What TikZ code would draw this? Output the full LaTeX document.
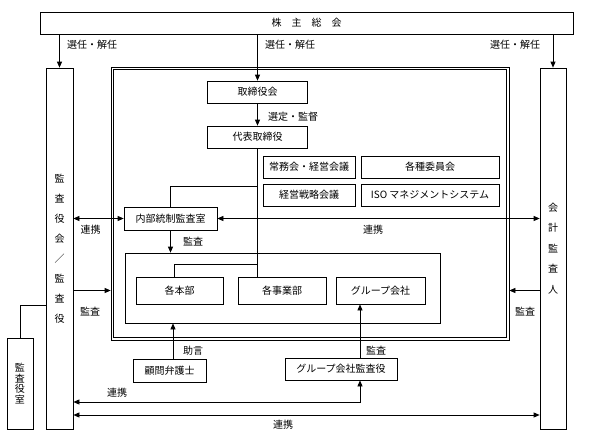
\documentclass[tikz,border=0pt]{standalone}
\usepackage{fontspec}
\setmainfont{Noto Sans CJK JP}
\usetikzlibrary{arrows.meta,calc}
\begin{document}
\begin{tikzpicture}[x=1pt,y=-1pt,
  every node/.style={font=\fontsize{10}{12}\selectfont, inner sep=0pt},
  box/.style={draw, line width=0.7pt, inner sep=0pt},
  ln/.style={line width=0.7pt},
  ar/.style={ln, -{Triangle[length=6pt,width=5pt]}},
  dar/.style={ln, {Triangle[length=6pt,width=5pt]}-{Triangle[length=6pt,width=5pt]}}]
\useasboundingbox (0,0) rectangle (592,442);
% boxes
\node[box, minimum width=533pt, minimum height=22pt] (sh) at (306.5,23) {株　主　総　会};
\node[box, minimum width=27pt, minimum height=361pt, align=center, font=\fontsize{10}{20}\selectfont] (kan) at (59.5,248.5) {監\\査\\役\\会\\／\\監\\査\\役};
\node[box, minimum width=26pt, minimum height=361pt, align=center, font=\fontsize{10}{20.5}\selectfont] (kai) at (553,248.5) {会\\計\\監\\査\\人};
\node[box, minimum width=398pt, minimum height=273pt] (big) at (310,203.5) {};
\draw[line width=1pt] ($(big.north west)+(2.8,2.8)$) rectangle ($(big.south east)+(-2.8,-2.8)$);
\node[box, minimum width=100pt, minimum height=22pt] (tk) at (257.5,92) {取締役会};
\node[box, minimum width=100pt, minimum height=22pt] (dh) at (257.5,137) {代表取締役};
\node[box, minimum width=92pt, minimum height=22pt] (jm) at (309,167) {常務会・経営会議};
\node[box, minimum width=138pt, minimum height=22pt] (ki) at (430,167) {各種委員会};
\node[box, minimum width=92pt, minimum height=22pt] (ks) at (309,195) {経営戦略会議};
\node[box, minimum width=138pt, minimum height=22pt] (iso) at (430,195) {ISO マネジメントシステム};
\node[box, minimum width=93pt, minimum height=23pt] (nb) at (170.5,218.5) {内部統制監査室};
\node[box, minimum width=315pt, minimum height=70pt] (grp) at (282.5,288) {};
\node[box, minimum width=87pt, minimum height=27pt] (hb) at (179.5,290.5) {各本部};
\node[box, minimum width=88pt, minimum height=27pt] (jb) at (282,290.5) {各事業部};
\node[box, minimum width=89pt, minimum height=27pt] (gk) at (380.5,290.5) {グループ会社};
\node[box, minimum width=26pt, minimum height=91pt, align=center, font=\fontsize{10}{10.5}\selectfont] (kmr) at (20,383.5) {監\\査\\役\\室};
\node[box, minimum width=73pt, minimum height=23pt] (kb) at (169.5,370.5) {顧問弁護士};
\node[box, minimum width=112pt, minimum height=22pt] (gka) at (341,369) {グループ会社監査役};
% helper coordinates
\coordinate (gx) at (360,0);
\coordinate (r1) at (0,402);
\coordinate (r2) at (0,415);
\coordinate (r3) at (0,305);
\coordinate (r4) at (0,186);
\coordinate (r5) at (0,264);
% connectors
\draw[ar] (sh.south -| kan) -- (kan.north);
\draw[ar] (sh.south -| kai) -- (kai.north);
\draw[ar] (sh.south -| tk) -- (tk.north);
\draw[ar] (tk.south) -- (dh.north);
\draw[ln] (dh.south) -- (dh.south |- jb.north);
\draw[ln] (nb.north) |- (dh.south |- r4);
\draw[ln] ([xshift=-5.5pt]hb.north) |- (dh.south |- r5);
\draw[dar] (kan.east |- nb.west) -- (nb.west);
\draw[dar] (nb.east) -- (nb.east -| kai.west);
\draw[ar] (nb.south) -- (nb.south |- grp.north);
\draw[ar] (kan.east |- hb.west) -- (big.west |- hb.west);
\draw[ar] (kai.west |- hb.east) -- (big.east |- hb.east);
\draw[ln] (kmr.north) |- (kan.west |- r3);
\draw[ar] ([xshift=3.5pt]kb.north) -- ([xshift=3.5pt]kb.north |- grp.south);
\draw[ar] (gka.north -| gx) -- (gk.south -| gx);
\draw[dar] (kan.east |- r1) -| (gka.south -| gx);
\draw[dar] (kan.east |- r2) -- (kai.west |- r2);
% labels
\node[anchor=west] (l1) at (67,45) {選任・解任};
\node[anchor=west] (l2) at (265,45) {選任・解任};
\node[anchor=west] (l3) at (490,45) {選任・解任};
\node[anchor=west] (l4) at (268,117) {選定・監督};
\node (l5) at (90.5,230) {連携};
\node (l6) at (373,230) {連携};
\node (l7) at (193,242) {監査};
\node (l8) at (90,312) {監査};
\node (l9) at (525,312) {監査};
\node (l10) at (193,351) {助言};
\node (l11) at (376,351) {監査};
\node (l12) at (117,393) {連携};
\node (l13) at (283,425) {連携};
\end{tikzpicture}
\end{document}
